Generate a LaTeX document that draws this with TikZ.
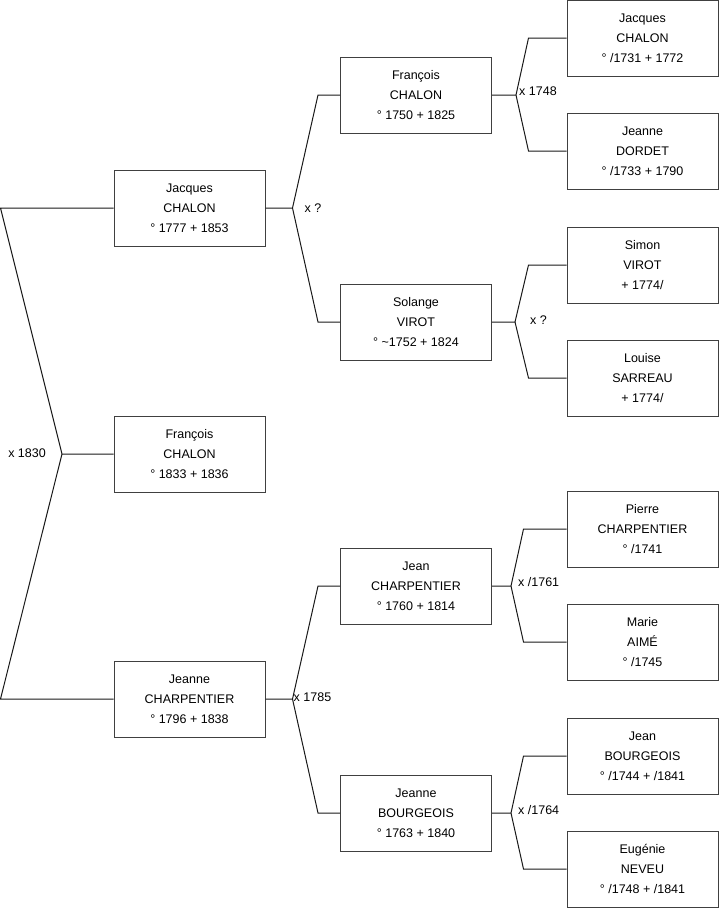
\documentclass[tikz,border=0pt]{standalone}
\usepackage{fontspec}
\setmainfont{Liberation Sans}
\usetikzlibrary{positioning}

\begin{document}
\begin{tikzpicture}[x=1pt,y=-1pt,font=\fontsize{12.5}{20}\selectfont,
    person/.style={draw=black!75,line width=1pt,minimum width=151pt,
      minimum height=76pt,align=center,inner sep=0pt},
    link/.style={line width=1pt,draw=black!90},
    mariage/.style={inner sep=0pt}]
  \useasboundingbox (0,0) rectangle (719,908);
  % one box per ancestor, sosa number / x / y / text
  \foreach \n/\x/\y/\txt in {
      1/189.5/454/{François\\CHALON\\° 1833 + 1836},
      2/189.5/208/{Jacques\\CHALON\\° 1777 + 1853},
      3/189.5/699/{Jeanne\\CHARPENTIER\\° 1796 + 1838},
      4/416/95/{François\\CHALON\\° 1750 + 1825},
      5/416/322/{Solange\\VIROT\\° \textasciitilde1752 + 1824},
      6/416/586/{Jean\\CHARPENTIER\\° 1760 + 1814},
      7/416/813/{Jeanne\\BOURGEOIS\\° 1763 + 1840},
      8/642.5/38/{Jacques\\CHALON\\° /1731 + 1772},
      9/642.5/151/{Jeanne\\DORDET\\° /1733 + 1790},
      10/642.5/265/{Simon\\VIROT\\+ 1774/},
      11/642.5/378/{Louise\\SARREAU\\+ 1774/},
      12/642.5/529/{Pierre\\CHARPENTIER\\° /1741},
      13/642.5/642/{Marie\\AIMÉ\\° /1745},
      14/642.5/756/{Jean\\BOURGEOIS\\° /1744 + /1841},
      15/642.5/869/{Eugénie\\NEVEU\\° /1748 + /1841}}
    \node[person] (s\n) at (\x,\y) {\txt};

  % root couple
  \coordinate (v1) at (62,454);
  \draw[link] (s1.west) -- (v1) -- ([xshift=-113pt]s3.west) -- (s3.west);
  \draw[link] (v1) -- ([xshift=-113pt]s2.west) -- (s2.west);
  \node[mariage,anchor=east] (l1) at ([xshift=-16pt,yshift=1pt]v1) {x 1830};

  % child / father / mother / fork / corner / label shift x / label shift y
  \foreach \c/\f/\m/\vx/\cx/\lbl/\dx/\dy in {
      2/4/5/27/22/{x ?}/12/0,
      3/6/7/27/22/{x 1785}/1/2,
      4/8/9/24/38/{x 1748}/3/4,
      5/10/11/23/38/{x ?}/15/2,
      6/12/13/19/43/{x /1761}/7/4,
      7/14/15/19/43/{x /1764}/7/3}{
    \coordinate (v\c) at ([xshift=\vx pt]s\c.east);
    \draw[link] (s\c.east) -- (v\c) -- ([xshift=-\cx pt]s\f.west) -- (s\f.west);
    \draw[link] (v\c) -- ([xshift=-\cx pt]s\m.west) -- (s\m.west);
    \node[mariage,anchor=west] (l\c) at ([xshift=\dx pt,yshift=\dy pt]v\c) {\lbl};
  }
\end{tikzpicture}
\end{document}
